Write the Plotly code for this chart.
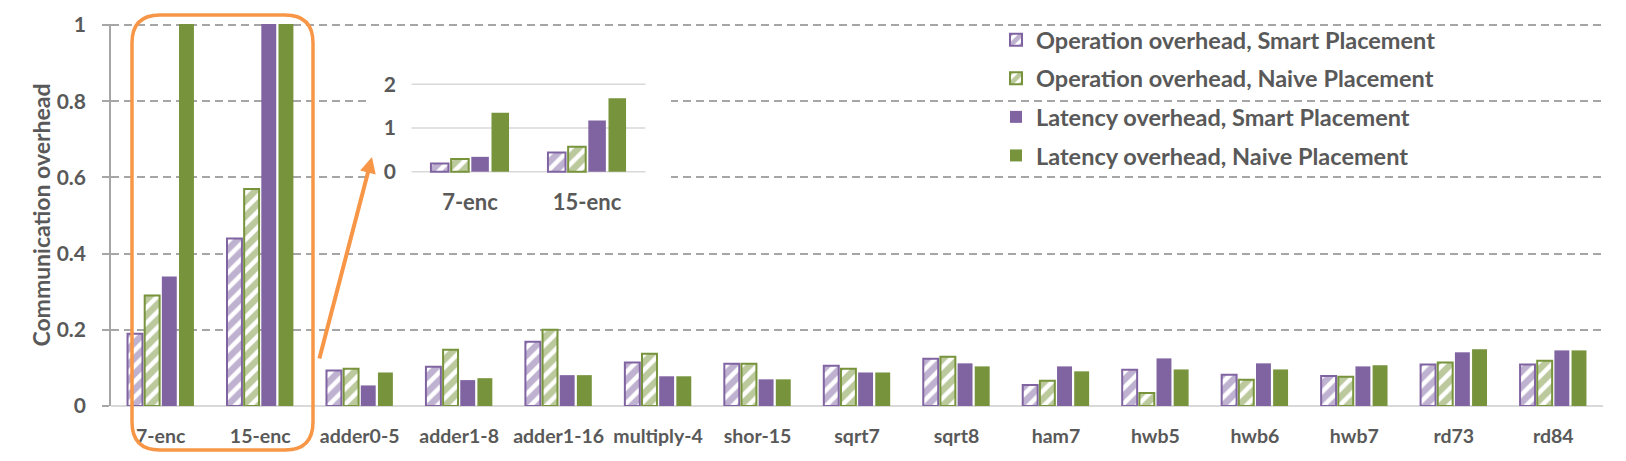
import plotly.graph_objects as go

categories = ["7-enc", "15-enc", "adder0-5", "adder1-8", "adder1-16", "multiply-4",
              "shor-15", "sqrt7", "sqrt8", "ham7", "hwb5", "hwb6", "hwb7", "rd73", "rd84"]
op_smart = [0.19, 0.44, 0.093, 0.103, 0.169, 0.114, 0.111, 0.106, 0.124, 0.055,
            0.095, 0.082, 0.079, 0.109, 0.109]
op_naive = [0.29, 0.57, 0.098, 0.148, 0.200, 0.137, 0.111, 0.098, 0.129, 0.066,
            0.034, 0.069, 0.077, 0.114, 0.119]
lat_smart = [0.34, 1.17, 0.054, 0.068, 0.081, 0.078, 0.070, 0.088, 0.112, 0.104,
             0.125, 0.112, 0.104, 0.141, 0.146]
lat_naive = [1.35, 1.68, 0.088, 0.073, 0.081, 0.078, 0.070, 0.088, 0.104, 0.091,
             0.096, 0.096, 0.107, 0.149, 0.146]
names = ["Operation overhead, Smart Placement", "Operation overhead, Naive Placement",
         "Latency overhead, Smart Placement", "Latency overhead, Naive Placement"]
inset_n = 2  # 7-enc and 15-enc are repeated in the zoomed inset
inset_ticks = [0, 1, 2]

PURPLE = "#8064a2"
GREEN = "#77933c"
ORANGE = "#f79646"
TEXT = "#595959"
FONT = "Lato"

W, H = 1626, 461
L, R, T, B = 111, 23, 24, 55


def px(x):
    return (x - L) / (W - L - R)


def py(y):
    return (H - B - y) / (H - T - B)


# inset: white panel 368..671 x 32..240 px, bars between 412..644, zero at 171.7, 43.7 px per unit
ix0, ix1, iy0, iy1 = 368, 671, 240, 32
cat_px, cat_first = 117, 470
zero_px, unit_px = 171.7, 43.7
x2_range = [(ix0 - cat_first) / cat_px, (ix1 - cat_first) / cat_px]
y2_range = [-(iy0 - zero_px) / unit_px, (zero_px - iy1) / unit_px]

series = [op_smart, op_naive, lat_smart, lat_naive]
colors = [PURPLE, GREEN, PURPLE, GREEN]
hatched = [True, True, False, False]

fig = go.Figure()
for i, vals in enumerate(series):
    if hatched[i]:
        marker = dict(color="white", line=dict(color=colors[i], width=2),
                      pattern=dict(shape="/", fgcolor=colors[i], bgcolor="white",
                                   size=11, solidity=0.6))
    else:
        marker = dict(color=colors[i], line=dict(width=0))
    fig.add_trace(go.Bar(x=categories, y=vals, name=names[i], marker=marker,
                         legendgroup=str(i), xaxis="x", yaxis="y"))
    fig.add_trace(go.Bar(x=categories[:inset_n], y=vals[:inset_n], marker=marker,
                         showlegend=False, xaxis="x2", yaxis="y2"))

# inset gridlines, only across the two inset groups
shapes = [dict(type="line", xref="x2", yref="y2", x0=-0.5, x1=inset_n - 0.5,
               y0=t, y1=t, line=dict(color="#d9d9d9", width=1.5), layer="below")
          for t in inset_ticks]

# rounded box around the first two groups
x0, x1, y0, y1 = px(132), px(313), py(450), py(15)
rx, ry = 28 / (W - L - R), 28 / (H - T - B)
box = (f"M {x0 + rx},{y0} L {x1 - rx},{y0} Q {x1},{y0} {x1},{y0 + ry} "
       f"L {x1},{y1 - ry} Q {x1},{y1} {x1 - rx},{y1} L {x0 + rx},{y1} "
       f"Q {x0},{y1} {x0},{y1 - ry} L {x0},{y0 + ry} Q {x0},{y0} {x0 + rx},{y0} Z")
shapes.append(dict(type="path", xref="paper", yref="paper", path=box,
                   line=dict(color=ORANGE, width=3.5), layer="above"))

fig.update_layout(
    width=W, height=H,
    margin=dict(l=L, r=R, t=T, b=B),
    paper_bgcolor="white", plot_bgcolor="white",
    font=dict(family=FONT, color=TEXT, weight="bold"),
    barmode="group", bargap=0.31, bargroupgap=0.13,
    xaxis=dict(type="category", domain=[0, 1], anchor="y", showgrid=False,
               showline=False, ticks="", tickfont=dict(size=19.5), tickangle=0,
               ticklabelstandoff=16, automargin=False),
    yaxis=dict(range=[0, 1.003], tickvals=[0, 0.2, 0.4, 0.6, 0.8, 1],
               ticktext=["0", "0.2", "0.4", "0.6", "0.8", "1"],
               showgrid=True, gridcolor="#a6a6a6", gridwidth=2, griddash="8px,5px",
               zeroline=True, zerolinecolor="#d9d9d9", zerolinewidth=2,
               showline=True, linecolor="#a6a6a6", linewidth=1.5,
               ticks="outside", ticklen=7, tickcolor="#a6a6a6", tickwidth=1.5,
               tickfont=dict(size=21), ticklabelstandoff=12, automargin=False,
               title=dict(text="Communication overhead", font=dict(size=23),
                          standoff=0)),
    xaxis2=dict(type="category", domain=[px(ix0), px(ix1)], range=x2_range,
                anchor="free", position=py(zero_px), tickangle=0,
                showgrid=False, showline=False, ticks="", tickfont=dict(size=22),
                ticklabelstandoff=15, automargin=False),
    yaxis2=dict(range=y2_range, tickvals=inset_ticks, domain=[py(iy0), py(iy1)],
                anchor="free", position=px(412), automargin=False,
                showgrid=False, zeroline=False, showline=False, ticks="",
                tickfont=dict(size=21), ticklabelstandoff=16),
    legend=dict(x=px(996), y=py(18), xanchor="left", yanchor="top",
                bgcolor="rgba(0,0,0,0)", font=dict(size=23.5), tracegroupgap=5,
                traceorder="grouped"),
    shapes=shapes,
    annotations=[
        dict(x=px(372), y=py(157), xref="paper", yref="paper", text="",
             showarrow=True, ax=-53, ay=203, arrowhead=2, arrowsize=0.8,
             arrowwidth=4, arrowcolor=ORANGE, standoff=0),
    ],
)

fig.write_html("out.html", config={"displayModeBar": False},
               post_script="document.body.style.margin = '0';")
